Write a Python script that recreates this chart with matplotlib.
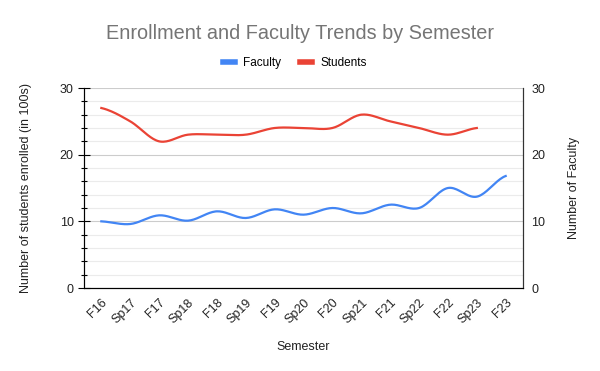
import numpy as np
import matplotlib.pyplot as plt

# Datos
semestres = ['F16', 'Sp17', 'F17', 'Sp18', 'F18', 'Sp19', 'F19', 'Sp20',
             'F20', 'Sp21', 'F21', 'Sp22', 'F22', 'Sp23', 'F23']
profesores = [10, 9.6, 10.9, 10.1, 11.5, 10.5, 11.8, 11.0, 12.0, 11.2,
              12.5, 12.0, 15.0, 13.7, 16.8]
estudiantes = [27, 25, 22, 23, 23, 23, 24, 24, 24, 26, 25, 24, 23, 24]

plt.rcParams['font.family'] = ['Liberation Sans', 'DejaVu Sans']


def suavizar(y, pasos=20):
    # Curva Catmull-Rom entre los puntos, solo para el trazo
    y = np.asarray(y, dtype=float)
    x = np.arange(len(y), dtype=float)
    xp = np.concatenate([[x[0]], x, [x[-1]]])
    yp = np.concatenate([[y[0]], y, [y[-1]]])
    xs, ys = [], []
    for i in range(1, len(xp) - 2):
        t = np.linspace(0, 1, pasos, endpoint=False)
        p0, p1, p2, p3 = yp[i - 1], yp[i], yp[i + 1], yp[i + 2]
        m1 = (p2 - p0) / 2
        m2 = (p3 - p1) / 2
        h00 = 2*t**3 - 3*t**2 + 1
        h10 = t**3 - 2*t**2 + t
        h01 = -2*t**3 + 3*t**2
        h11 = t**3 - t**2
        ys.append(h00*p1 + h10*m1 + h01*p2 + h11*m2)
        xs.append(xp[i] + t)
    xs.append([x[-1]])
    ys.append([y[-1]])
    return np.concatenate(xs), np.concatenate(ys)


fig = plt.figure(figsize=(6, 3.71), dpi=100)
ax = fig.add_axes([0.14, 0.2237, 0.7317, 0.5391])

xf, yf = suavizar(profesores)
xe, ye = suavizar(estudiantes)
ax.plot(xf, yf, color='#4285F4', lw=1.6, label='Faculty', zorder=3)
ax.plot(xe, ye, color='#EA4335', lw=1.6, label='Students', zorder=3)

ax.set_xlim(-0.6, len(semestres) - 0.4)
ax.set_ylim(0, 30)
ax.set_yticks([0, 10, 20, 30])
ax.set_yticks(np.arange(2, 30, 2), minor=True)
ax.set_xticks(range(len(semestres)))
ax.set_xticklabels(semestres, rotation=45, ha='right', rotation_mode='anchor',
                   fontsize=9, color='#222222')
ax.tick_params(axis='x', length=0, pad=6)
ax.tick_params(axis='y', which='major', direction='inout', length=9,
               width=0.8, labelsize=9, labelcolor='#222222', pad=3)
ax.tick_params(axis='y', which='minor', direction='inout', length=4, width=0.8)

ax.grid(axis='y', which='major', color='#cccccc', lw=0.8, zorder=0)
ax.grid(axis='y', which='minor', color='#ebebeb', lw=0.8, zorder=0)
ax.set_axisbelow(True)

ax.spines['top'].set_visible(False)
ax.spines['left'].set_color('#333333')
ax.spines['bottom'].set_color('#333333')
ax.spines['right'].set_color('#333333')

ax.set_ylabel('Number of students enrolled (in 100s)', fontsize=9, color='#222222', labelpad=20)
ax.set_xlabel('Semester', fontsize=9, color='#222222', labelpad=11)

ax2 = ax.twinx()
ax2.set_ylim(0, 30)
ax2.set_yticks([0, 10, 20, 30])
ax2.tick_params(axis='y', length=0, labelsize=9, labelcolor='#222222', pad=6)
ax2.spines['top'].set_visible(False)
ax2.spines['right'].set_color('#333333')
ax2.set_ylabel('Number of Faculty', fontsize=9, color='#222222', labelpad=16)

fig.suptitle('Enrollment and Faculty Trends by Semester', x=0.5, y=0.935,
             fontsize=14.3, color='#757575')
leg = ax.legend(loc='lower center', bbox_to_anchor=(0.5 - 0.02, 1.04), ncol=2,
                frameon=False, fontsize=8.5, handlelength=1.0, handletextpad=0.7,
                columnspacing=1.6)
for linea in leg.get_lines():
    linea.set_linewidth(4)

fig.savefig('out.png', dpi=100)
